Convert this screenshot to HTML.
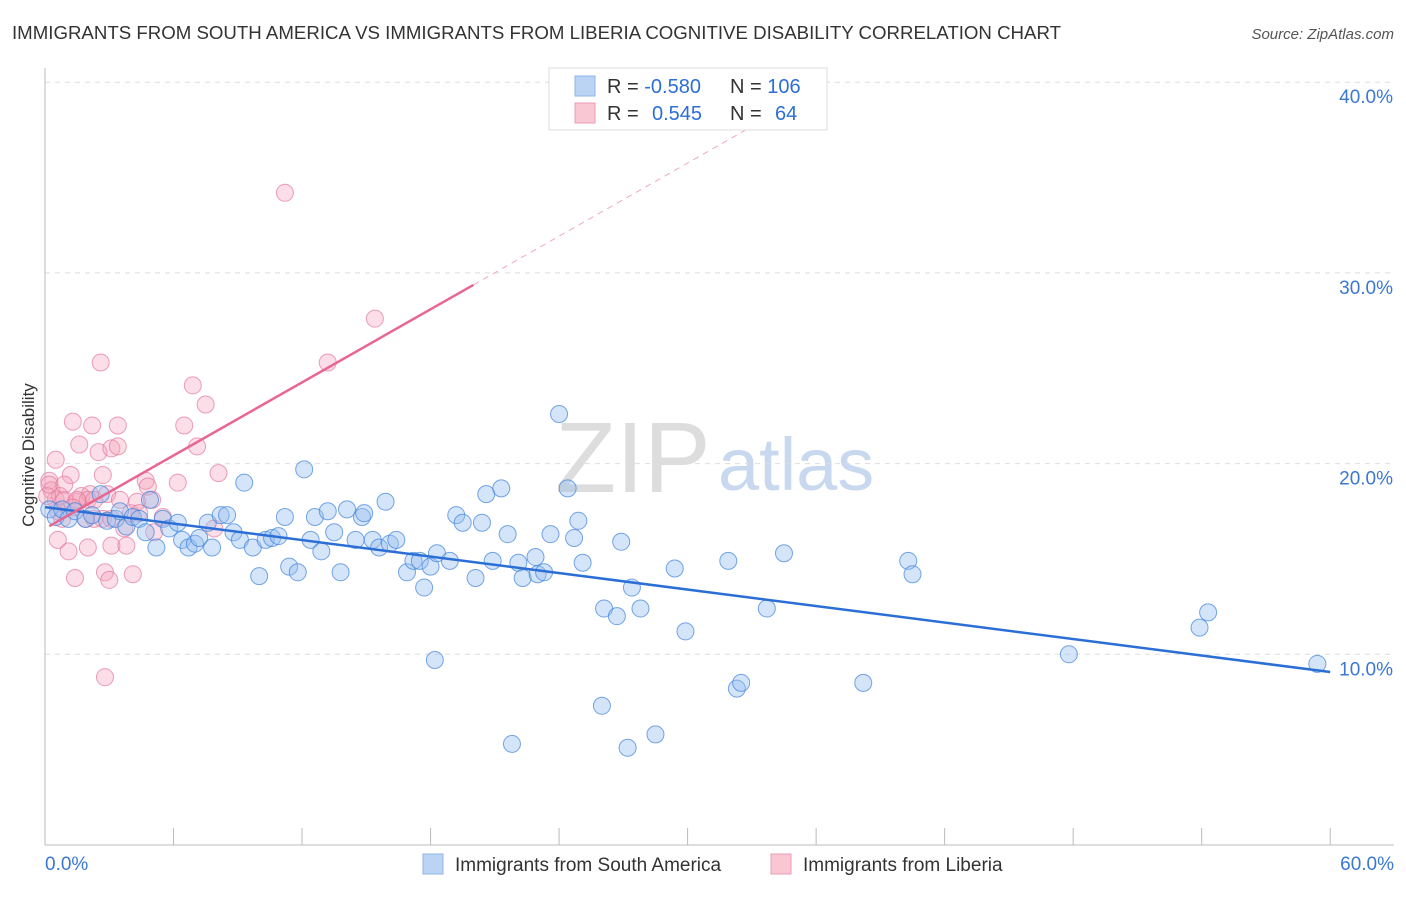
<!DOCTYPE html>
<html><head><meta charset="utf-8"><style>
body{margin:0;background:#fff;font-family:"Liberation Sans",sans-serif;}
svg text{font-family:"Liberation Sans",sans-serif;}
</style></head><body>
<svg id="c" width="1406" height="892">
<text x="12" y="39" font-size="18" fill="#333" textLength="1049" lengthAdjust="spacingAndGlyphs">IMMIGRANTS FROM SOUTH AMERICA VS IMMIGRANTS FROM LIBERIA COGNITIVE DISABILITY CORRELATION CHART</text>
<text x="1394" y="39" font-size="15" fill="#555" font-style="italic" text-anchor="end">Source: ZipAtlas.com</text>
<text x="555" y="492" font-size="100" fill="#ddd" font-family="Liberation Serif">ZIP</text>
<text x="718" y="490" font-size="74" fill="#c8d8ee">atlas</text>
<text transform="translate(34,455) rotate(-90)" font-size="17" fill="#333" text-anchor="middle">Cognitive Disability</text>
<g id="grid"></g><g id="pts"></g><g id="lines"></g>
<g>
<rect x="549" y="68" width="278" height="62" fill="#fff" stroke="#ddd"/>
<rect x="575" y="76" width="20" height="20" fill="#bcd4f4" stroke="#8fb3e6"/>
<rect x="575" y="103" width="20" height="20" fill="#f9c6d4" stroke="#ee9cb5"/>
<text x="607" y="93" font-size="20" fill="#333">R = <tspan fill="#2b6fd6">-0.580</tspan></text>
<text x="730" y="93" font-size="20" fill="#333">N = <tspan fill="#2b6fd6">106</tspan></text>
<text x="607" y="120" font-size="20" fill="#333">R = <tspan fill="#2b6fd6" x="652">0.545</tspan></text>
<text x="730" y="120" font-size="20" fill="#333">N = <tspan fill="#2b6fd6" x="775">64</tspan></text>
</g>
<g>
<rect x="423" y="854" width="20" height="20" fill="#bcd4f4" stroke="#8fb3e6"/>
<text x="455" y="871" font-size="19" fill="#333">Immigrants from South America</text>
<rect x="771" y="854" width="20" height="20" fill="#f9c6d4" stroke="#ee9cb5"/>
<text x="803" y="871" font-size="19" fill="#333">Immigrants from Liberia</text>
</g>
</svg>
<script>
const blueX=[0.2,0.5,0.8,1.1,1.4,1.9,2.2,2.6,2.9,3.3,3.5,3.8,4.1,4.4,4.7,4.9,5.2,5.5,5.8,6.2,6.4,6.7,7.0,7.2,7.6,7.8,8.2,8.5,8.8,9.1,9.3,9.7,10.0,10.3,10.6,10.9,11.2,11.4,11.8,12.1,12.4,12.6,12.9,13.2,13.5,13.8,14.1,14.5,14.8,14.9,15.3,15.6,16.1,16.4,15.9,16.9,17.2,17.5,17.7,18.0,18.3,18.9,18.2,19.2,19.5,20.1,20.4,20.6,20.9,21.3,21.6,21.8,22.1,22.3,22.9,23.0,23.3,23.6,24.0,24.4,24.7,24.9,25.1,26.0,26.1,26.7,26.9,27.2,27.4,27.8,28.5,29.4,29.9,31.9,32.3,32.5,33.7,34.5,38.2,40.3,40.5,47.8,53.9,54.3,59.4];
const blueY=[17.6,17.2,17.6,17.1,17.5,17.1,17.3,18.4,17.0,17.1,17.5,16.7,17.2,17.1,16.4,18.1,15.6,17.1,16.6,16.9,16.0,15.6,15.8,16.1,16.9,15.6,17.3,17.3,16.4,16.0,19.0,15.6,14.1,16.0,16.1,16.2,17.2,14.6,14.3,19.7,16.0,17.2,15.4,17.5,16.4,14.3,17.6,16.0,17.2,17.4,16.0,15.6,15.8,16.0,18.0,14.3,14.9,14.9,13.5,14.6,15.3,14.9,9.7,17.3,16.9,14.0,16.9,18.4,14.9,18.7,16.3,5.3,14.8,14.0,15.1,14.2,14.3,16.3,22.6,18.7,16.1,17.0,14.8,7.3,12.4,12.0,15.9,5.1,13.5,12.4,5.8,14.5,11.2,14.9,8.2,8.5,12.4,15.3,8.5,14.9,14.2,10.0,11.4,12.2,9.5];
const pinkX=[0.2,0.3,0.5,0.5,0.6,0.7,0.8,0.9,1.1,1.2,1.3,1.4,1.5,1.6,1.7,1.9,2.0,2.1,2.2,2.3,2.5,2.6,2.7,2.7,2.8,2.9,3.0,3.1,3.1,3.4,3.4,3.5,3.7,3.8,4.0,4.1,4.3,4.7,4.8,5.0,5.1,5.5,6.2,6.5,6.9,7.1,7.5,7.9,8.1,11.2,13.2,15.4,2.8,0.1,0.2,0.6,0.9,2.0,3.1,4.4,1.5,2.3,1.3];
const pinkY=[19.1,18.6,20.2,18.1,17.5,18.3,17.1,18.1,15.4,19.4,22.2,14.0,18.0,21.0,18.3,17.1,15.6,18.4,22.0,17.1,20.6,25.3,19.4,17.1,14.3,18.4,13.9,20.8,15.7,22.0,20.9,18.1,16.6,15.7,17.4,14.2,18.0,19.1,18.8,18.1,16.4,17.2,19.0,22.0,24.1,20.9,23.1,16.6,19.5,34.2,25.3,27.6,8.8,18.3,18.9,16.0,18.9,18.1,17.1,17.4,18.1,18.1,17.7];
const X=v=>45+v*21.42, Y=v=>845-v*19.07;
const NS='http://www.w3.org/2000/svg';
function mk(t,a,p){const e=document.createElementNS(NS,t);for(const k in a)e.setAttribute(k,a[k]);p.appendChild(e);return e;}
const g=document.getElementById('grid');
[10,20,30,40].forEach(v=>{
 const l=mk('line',{x1:45,x2:1394,y1:Y(v),y2:Y(v),stroke:'#ddd','stroke-dasharray':'5,5'},g);
 
 
 const t=mk('text',{x:1393,y:Y(v)+21,'font-size':19,fill:'#3a78d4','text-anchor':'end'},g);t.textContent=v+'.0%';
 
 
});
mk('line',{x1:45,x2:45,y1:68,y2:845,stroke:'#bbb'},g);
mk('line',{x1:45,x2:1394,y1:845,y2:845,stroke:'#bbb'},g);
for(let i=0;i<=10;i++){mk('line',{x1:X(i*6),x2:X(i*6),y1:828,y2:845,stroke:'#bbb'},g);}
const t0=mk('text',{x:45,y:870,'font-size':19,fill:'#3a78d4'},g);t0.textContent='0.0%';


const t1=mk('text',{x:1394,y:870,'font-size':19,fill:'#3a78d4','text-anchor':'end'},g);t1.textContent='60.0%';


const p=document.getElementById('pts');
pinkX.forEach((x,i)=>{const c=mk('circle',{cx:X(x),cy:Y(pinkY[i]),r:8.5,fill:'rgba(244,160,185,0.35)',stroke:'rgba(228,120,155,0.7)'},p);
 
 });
blueX.forEach((x,i)=>{const c=mk('circle',{cx:X(x),cy:Y(blueY[i]),r:8.5,fill:'rgba(150,190,240,0.4)',stroke:'rgba(60,130,220,0.7)'},p);
 
 });
const L=document.getElementById('lines');
const b=mk('line',{x1:X(0),y1:Y(17.72),x2:X(60),y2:Y(9.07),stroke:'#2b6fd6','stroke-width':2.5},L);


const pf=x=>16.59+0.639*x;
const a=mk('line',{x1:X(0.2),y1:Y(pf(0.2)),x2:X(20),y2:Y(pf(20)),stroke:'#e8668f','stroke-width':2.5},L);


const d=mk('line',{x1:X(20),y1:Y(pf(20)),x2:X(36.5),y2:Y(pf(36.5)),stroke:'#eeaabb','stroke-width':1,'stroke-dasharray':'6,5'},L);


</script>
</body></html>
